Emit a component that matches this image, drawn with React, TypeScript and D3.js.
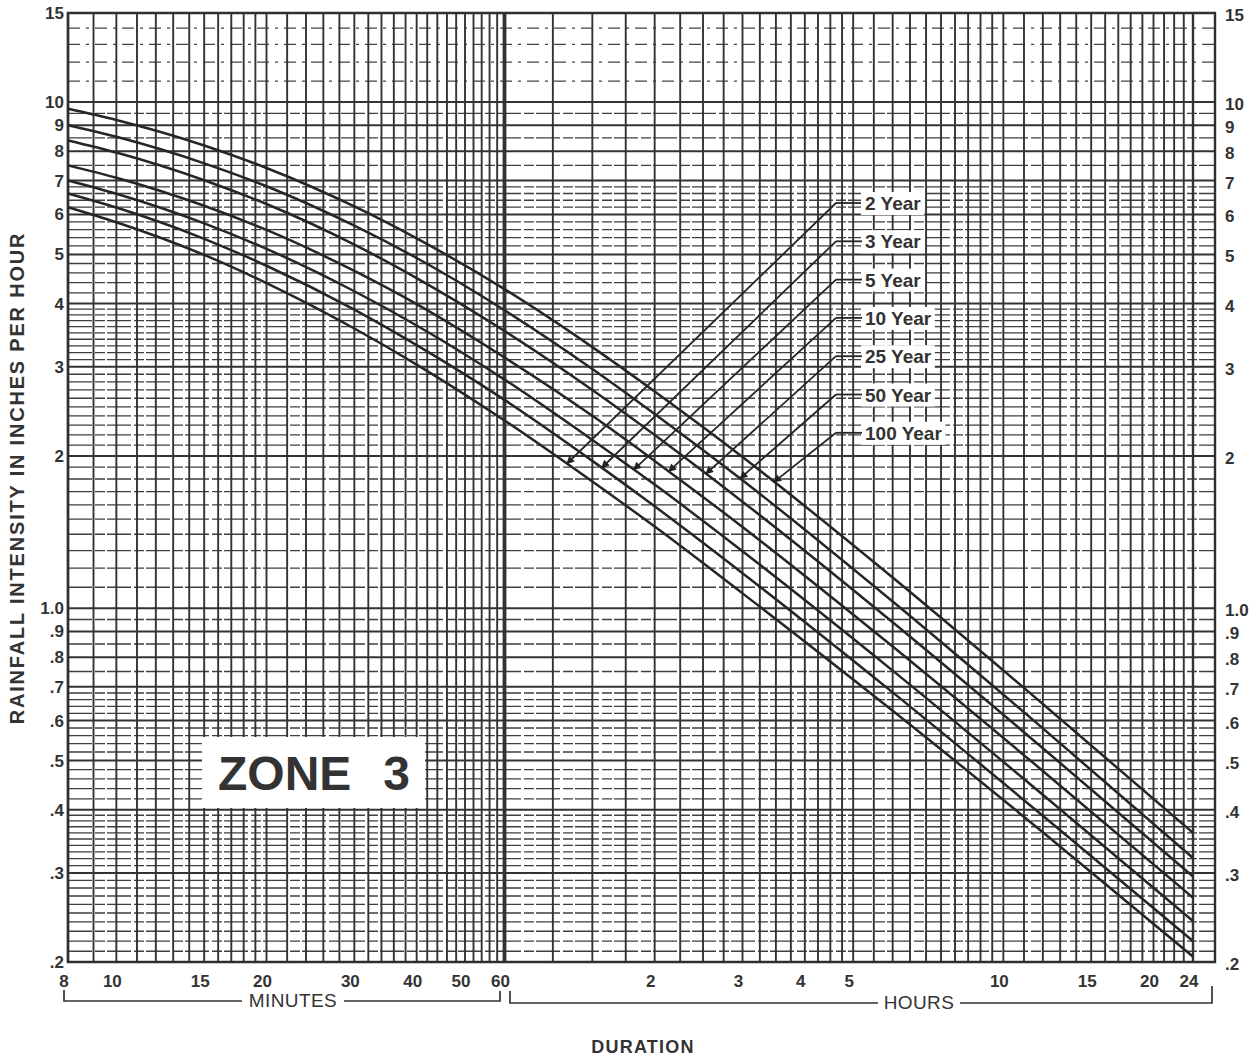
import React, { useEffect, useRef } from "react";
import * as d3 from "d3";

// durations in minutes, intensities in inches per hour
const durations = [8, 10, 15, 20, 30, 40, 60, 90, 120, 180, 360, 720, 1440];
const yr2 = [6.2, 5.79, 4.99, 4.39, 3.57, 3.03, 2.35, 1.78, 1.45, 1.07, 0.627, 0.361, 0.205];
const yr3 = [6.6, 6.19, 5.37, 4.75, 3.89, 3.31, 2.58, 1.955, 1.59, 1.173, 0.682, 0.389, 0.22];
const yr5 = [7.0, 6.59, 5.76, 5.13, 4.23, 3.62, 2.83, 2.15, 1.755, 1.296, 0.753, 0.428, 0.241];
const yr10 = [7.5, 7.09, 6.24, 5.59, 4.64, 3.99, 3.13, 2.4, 1.955, 1.447, 0.84, 0.477, 0.268];
const yr25 = [8.4, 7.95, 7.01, 6.29, 5.23, 4.49, 3.53, 2.7, 2.2, 1.624, 0.938, 0.529, 0.295];
const yr50 = [9.0, 8.54, 7.57, 6.82, 5.7, 4.92, 3.88, 2.97, 2.42, 1.79, 1.031, 0.579, 0.321];
const yr100 = [9.7, 9.22, 8.21, 7.41, 6.22, 5.38, 4.27, 3.28, 2.68, 1.99, 1.15, 0.647, 0.36];

const periodLabels = ["2 Year", "3 Year", "5 Year", "10 Year", "25 Year", "50 Year", "100 Year"];
const arrowTipMinutes = [80, 94, 109, 128, 152, 178, 208];

const yTickValues = [0.2, 0.3, 0.4, 0.5, 0.6, 0.7, 0.8, 0.9, 1, 2, 3, 4, 5, 6, 7, 8, 9, 10, 15];
const yTickText = [".2", ".3", ".4", ".5", ".6", ".7", ".8", ".9", "1.0", "2", "3", "4", "5", "6", "7", "8", "9", "10", "15"];
const minuteTicks = [8, 10, 15, 20, 30, 40, 50, 60];
const hourTicks = [2, 3, 4, 5, 10, 15, 20, 24];

const W = 1258, H = 1060;
const left = 68, right = 1193, frameRight = 1215, top = 13, bottom = 962;
const font = "'Liberation Sans', Arial, Helvetica, sans-serif";
const ink = "#333";

export default function App() {
  const ref = useRef(null);

  useEffect(() => {
    const svg = d3.select(ref.current);
    svg.selectAll("*").remove();

    const x = d3.scaleLog().domain([8, 1440]).range([left, right]);
    const y = d3.scaleLog().domain([0.2, 15]).range([bottom, top]);

    svg.append("rect").attr("width", W).attr("height", H).attr("fill", "#fff");

    const grid = svg.append("g");

    // horizontal graph-paper lines
    const hBands = [
      [0.2, 0.4, 0.01], [0.4, 0.7, 0.02], [0.7, 1, 0.05],
      [1, 4, 0.1], [4, 7, 0.2], [7, 10, 0.5],
    ];
    const hMinor = [];
    hBands.forEach(([a, b, s]) => d3.range(a, b - s / 2, s).forEach(v => hMinor.push(+v.toFixed(3))));
    grid.selectAll(".hminor").data(hMinor.filter(v => !yTickValues.includes(v)))
      .enter().append("line")
      .attr("x1", left).attr("x2", frameRight)
      .attr("y1", d => y(d)).attr("y2", d => y(d))
      .attr("stroke", "#3f3f3f").attr("stroke-width", 1.35)
      .attr("stroke-dasharray", "24 3 10 2");
    grid.selectAll(".htop").data([11, 12, 13, 14])
      .enter().append("line")
      .attr("x1", left).attr("x2", frameRight)
      .attr("y1", d => y(d)).attr("y2", d => y(d))
      .attr("stroke", "#444").attr("stroke-width", 1.3)
      .attr("stroke-dasharray", "12 6 3 6");
    grid.selectAll(".hmajor").data(yTickValues)
      .enter().append("line")
      .attr("x1", left).attr("x2", frameRight)
      .attr("y1", d => y(d)).attr("y2", d => y(d))
      .attr("stroke", "#333").attr("stroke-width", 2);

    // vertical lines
    const vBands = [[8, 20, 1], [20, 60, 2], [60, 300, 15], [300, 600, 30], [600, 1440, 60]];
    const vLines = [];
    vBands.forEach(([a, b, s]) => d3.range(a, b, s).forEach(v => vLines.push(v)));
    vLines.push(1440);
    grid.selectAll(".v").data(vLines)
      .enter().append("line")
      .attr("x1", d => x(d)).attr("x2", d => x(d))
      .attr("y1", top).attr("y2", bottom)
      .attr("stroke", "#333")
      .attr("stroke-width", d => (d === 60 ? 3.8 : d === 1440 || d === 8 ? 2.4 : 1.9));

    // frame
    svg.append("path")
      .attr("d", `M${left},${top}H${frameRight}V${bottom}H${left}Z`)
      .attr("fill", "none").attr("stroke", "#2f2f2f").attr("stroke-width", 2.4);

    // curves
    const series = [yr2, yr3, yr5, yr10, yr25, yr50, yr100];
    const line = d3.line()
      .x((d, i) => x(durations[i]))
      .y(d => y(d))
      .curve(d3.curveMonotoneX);
    svg.selectAll(".curve").data(series)
      .enter().append("path")
      .attr("d", d => line(d))
      .attr("fill", "none").attr("stroke", "#262626").attr("stroke-width", 2.5);

    // zone box
    svg.append("rect").attr("x", 202).attr("y", 737).attr("width", 223).attr("height", 71).attr("fill", "#fff");
    const zone = svg.append("g").style("font", `bold 48px ${font}`).attr("fill", ink);
    zone.append("text").attr("x", 218).attr("y", 790).text("ZONE");
    zone.append("text").attr("x", 410).attr("y", 790).attr("text-anchor", "end").text("3");

    // leaders with arrowheads
    svg.append("defs").append("marker")
      .attr("id", "ah").attr("viewBox", "0 0 10 10")
      .attr("refX", 9).attr("refY", 5)
      .attr("markerWidth", 11).attr("markerHeight", 8)
      .attr("markerUnits", "userSpaceOnUse")
      .attr("orient", "auto")
      .append("path").attr("d", "M0,0L10,5L0,10Z").attr("fill", "#222");

    const valueAt = (vals, t) => {
      const i = d3.bisectRight(durations, t) - 1;
      const t0 = durations[i], t1 = durations[i + 1];
      const f = Math.log(t / t0) / Math.log(t1 / t0);
      return Math.exp(Math.log(vals[i]) + f * (Math.log(vals[i + 1]) - Math.log(vals[i])));
    };

    const labels = svg.append("g");
    periodLabels.forEach((name, i) => {
      const ly = 203 + i * 38.3;
      const tx = x(arrowTipMinutes[i]);
      const ty = y(valueAt(series[i], arrowTipMinutes[i]));
      labels.append("line")
        .attr("x1", 836).attr("y1", ly).attr("x2", 862).attr("y2", ly)
        .attr("stroke", "#262626").attr("stroke-width", 1.8);
      labels.append("line")
        .attr("x1", 836).attr("y1", ly).attr("x2", tx).attr("y2", ty)
        .attr("stroke", "#262626").attr("stroke-width", 1.8)
        .attr("marker-end", "url(#ah)");
      const t = labels.append("text")
        .attr("x", 865).attr("y", ly + 7)
        .style("font", `bold 19px ${font}`).attr("fill", ink)
        .text(name);
      const bb = t.node().getBBox();
      labels.insert("rect", "text")
        .attr("x", 861).attr("y", ly - 11).attr("width", bb.width + 7).attr("height", 23)
        .attr("fill", "#fff");
    });

    // y tick labels both sides
    const yl = svg.append("g").style("font", `bold 17px ${font}`).attr("fill", ink);
    yl.selectAll(".yl").data(yTickValues).enter().append("text")
      .attr("x", 64).attr("y", d => y(d) + 6)
      .attr("text-anchor", "end")
      .text((d, i) => yTickText[i]);
    yl.selectAll(".yr").data(yTickValues).enter().append("text")
      .attr("x", 1225).attr("y", d => y(d) + 8)
      .attr("text-anchor", "start")
      .text((d, i) => yTickText[i]);

    // x tick labels
    const xl = svg.append("g").style("font", `bold 17px ${font}`).attr("fill", ink).attr("text-anchor", "middle");
    xl.selectAll(".xm").data(minuteTicks).enter().append("text")
      .attr("x", d => x(d) - 4).attr("y", 987).text(d => d);
    xl.selectAll(".xh").data(hourTicks).enter().append("text")
      .attr("x", d => x(d * 60) - 4).attr("y", 987).text(d => d);

    // brackets
    const br = svg.append("g").attr("fill", "none").attr("stroke", "#333").attr("stroke-width", 1.7);
    br.append("path").attr("d", "M64,990V1001H242M344,1001H500V991");
    br.append("path").attr("d", "M510,991V1003H878M960,1003H1212V986");
    svg.append("text").attr("x", 293).attr("y", 1007).attr("text-anchor", "middle")
      .style("font", `19px ${font}`).attr("fill", ink).attr("letter-spacing", 0.4).text("MINUTES");
    svg.append("text").attr("x", 919).attr("y", 1009).attr("text-anchor", "middle")
      .style("font", `19px ${font}`).attr("fill", ink).attr("letter-spacing", 0.4).text("HOURS");
    svg.append("text").attr("x", 643).attr("y", 1053).attr("text-anchor", "middle")
      .style("font", `bold 18px ${font}`).attr("fill", ink)
      .attr("letter-spacing", 1.2)
      .text("DURATION");

    svg.append("text")
      .attr("transform", "translate(24,478)rotate(-90)")
      .attr("text-anchor", "middle")
      .style("font", `bold 20px ${font}`).attr("fill", ink)
      .attr("letter-spacing", 1.8)
      .text("RAINFALL INTENSITY IN INCHES PER HOUR");
  }, []);

  return (
    <svg ref={ref} width={W} height={H}
      style={{ position: "absolute", left: 0, top: 0, background: "#fff" }} />
  );
}
